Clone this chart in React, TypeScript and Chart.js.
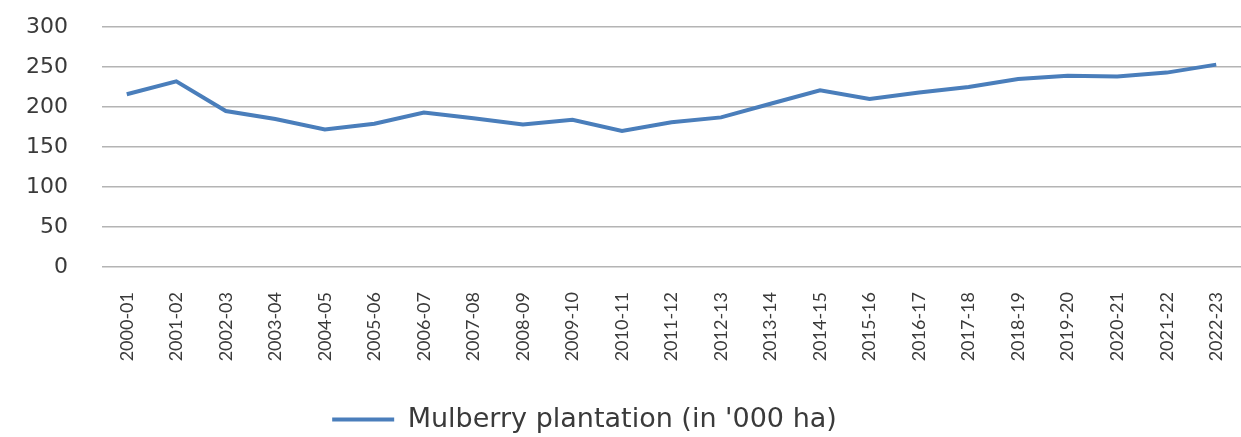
import React, { useEffect, useRef } from "react";
import { Chart, registerables } from "chart.js";

Chart.register(...registerables);

const years: string[] = [
  "2000-01", "2001-02", "2002-03", "2003-04", "2004-05", "2005-06", "2006-07", "2007-08",
  "2008-09", "2009-10", "2010-11", "2011-12", "2012-13", "2013-14", "2014-15", "2015-16",
  "2016-17", "2017-18", "2018-19", "2019-20", "2020-21", "2021-22", "2022-23",
];

const mulberryArea: number[] = [
  216, 232, 195, 185, 172, 179, 193, 186, 178, 184, 170, 181, 187, 204, 221, 210,
  218, 225, 235, 239, 238, 243, 253,
];

const seriesLabel = "Mulberry plantation (in '000 ha)";
const yTicks: number[] = [0, 50, 100, 150, 200, 250, 300];

export default function App() {
  const canvasRef = useRef<HTMLCanvasElement | null>(null);

  useEffect(() => {
    if (!canvasRef.current) return;
    const legendShift = {
      id: "legendShift",
      afterLayout(chart: any) {
        if (chart.legend) {
          chart.legend.left -= 36;
          chart.legend.right -= 36;
          chart.legend.top += 6;
          chart.legend.bottom += 6;
        }
      },
    };
    const chart = new Chart(canvasRef.current, {
      type: "line",
      data: {
        labels: years,
        datasets: [
          {
            label: seriesLabel,
            data: mulberryArea,
            borderColor: "#4a7ebb",
            backgroundColor: "#4a7ebb",
            borderWidth: 4,
            pointRadius: 0,
            pointStyle: "line",
            tension: 0,
          },
        ],
      },
      options: {
        animation: false,
        responsive: false,
        layout: { padding: { top: 27, right: 0, left: 0, bottom: 0 } },
        plugins: {
          legend: {
            position: "bottom",
            labels: {
              usePointStyle: true,
              pointStyleWidth: 62,
              color: "#3a3a3a",
              padding: 10,
              font: { family: "DejaVu Sans", size: 27 },
            },
          },
          tooltip: { enabled: false },
        },
        scales: {
          x: {
            offset: true,
            grid: { display: false, drawTicks: false },
            border: { display: false },
            ticks: {
              autoSkip: false,
              maxRotation: 90,
              minRotation: 90,
              padding: 25,
              color: "#3a3a3a",
              font: { family: "Lato", size: 18 },
            },
            afterFit(scale: any) {
              scale.height = 123;
              scale.paddingLeft = 0;
              scale.paddingRight = 0;
            },
          },
          y: {
            min: 0,
            max: 300,
            afterBuildTicks(scale: any) {
              scale.ticks = yTicks.map((v) => ({ value: v }));
            },
            grid: { color: "#b4b4b4", lineWidth: 1.5, drawTicks: false },
            border: { display: false },
            ticks: {
              padding: 34,
              color: "#3a3a3a",
              font: { family: "DejaVu Sans", size: 22 },
            },
            afterFit(scale: any) {
              scale.width = 102;
              scale.paddingTop = 0;
              scale.paddingBottom = 0;
            },
          },
        },
      },
      plugins: [legendShift],
    });
    return () => chart.destroy();
  }, []);

  return (
    <div style={{ position: "absolute", left: 0, top: 0, width: 1241, height: 437, background: "#fff" }}>
      <canvas ref={canvasRef} width={1241} height={437} style={{ display: "block" }} />
    </div>
  );
}
